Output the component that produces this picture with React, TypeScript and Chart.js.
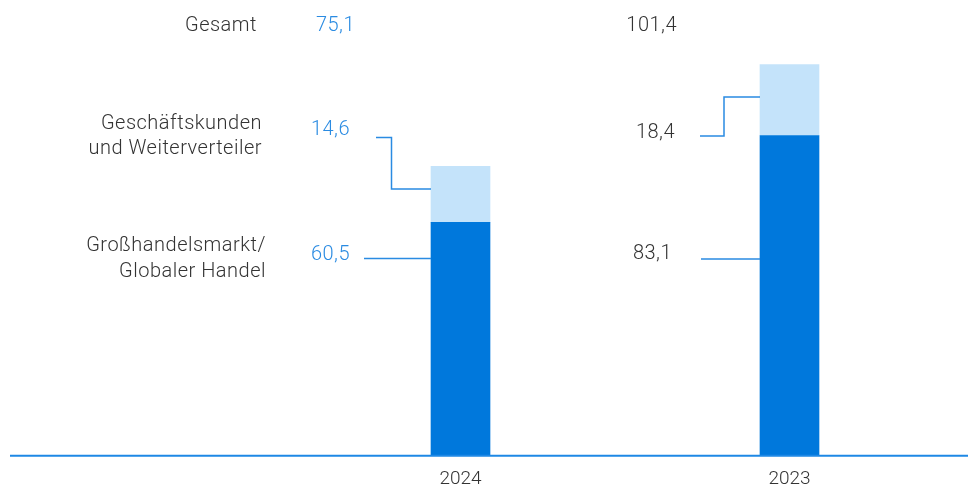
import React, { useEffect, useRef } from "react";
import { Chart, registerables } from "chart.js";

Chart.register(...registerables);

const years = ["2024", "2023"];
const wholesale = [60.5, 83.1];
const business = [14.6, 18.4];
const totals = [75.1, 101.4];
const seriesNames = ["Großhandelsmarkt/\nGlobaler Handel", "Geschäftskunden\nund Weiterverteiler", "Gesamt"];

const DARK = "#0078dc";
const LIGHT = "#c4e3fa";
const BLUE_TEXT = "#2a8be2";
const GREY_TEXT = "#333333";
const LINE = "#2a8be2";
const FONT = "Roboto, 'Noto Sans', sans-serif";

const fmt = (v: number) => v.toFixed(1).replace(".", ",");

const annotations = {
  id: "annotations",
  afterDraw(chart: any) {
    const ctx = chart.ctx as CanvasRenderingContext2D;
    const meta0 = chart.getDatasetMeta(0);
    const barLeft = (i: number) => {
      const el = meta0.data[i] as any;
      return el.x - el.width / 2;
    };
    ctx.save();
    // axis line
    ctx.strokeStyle = "#1e88e5";
    ctx.lineWidth = 2;
    ctx.beginPath();
    const yb = chart.scales.y.getPixelForValue(0);
    ctx.moveTo(10, yb + 0.5);
    ctx.lineTo(968, yb + 0.5);
    ctx.stroke();

    ctx.font = `300 20px ${FONT}`;
    (ctx as any).letterSpacing = "0.5px";
    ctx.textBaseline = "middle";
    ctx.textAlign = "right";
    // category names
    ctx.fillStyle = GREY_TEXT;
    const [gh, gl] = [seriesNames[0].split("\n"), seriesNames[1].split("\n")];
    ctx.fillText(seriesNames[2], 257, 26);
    ctx.fillText(gl[0], 262, 124);
    ctx.fillText(gl[1], 262, 149);
    ctx.fillText(gh[0], 266, 246);
    ctx.fillText(gh[1], 266, 272);

    // values 2024 (blue)
    ctx.fillStyle = BLUE_TEXT;
    ctx.fillText(fmt(totals[0]), 355, 26);
    ctx.fillText(fmt(business[0]), 350, 130);
    ctx.fillText(fmt(wholesale[0]), 350, 255);
    // values 2023 (grey)
    ctx.fillStyle = GREY_TEXT;
    ctx.fillText(fmt(totals[1]), 677, 26);
    ctx.fillText(fmt(business[1]), 675, 133);
    ctx.fillText(fmt(wholesale[1]), 672, 254);

    // connectors
    ctx.strokeStyle = LINE;
    ctx.lineWidth = 1.5;
    ctx.beginPath();
    ctx.moveTo(376, 137.5);
    ctx.lineTo(391.5, 137.5);
    ctx.lineTo(391.5, 189);
    ctx.lineTo(barLeft(0), 189);
    ctx.moveTo(364, 258.5);
    ctx.lineTo(barLeft(0), 258.5);
    ctx.moveTo(700, 136);
    ctx.lineTo(724, 136);
    ctx.lineTo(724, 97);
    ctx.lineTo(barLeft(1), 97);
    ctx.moveTo(701, 259);
    ctx.lineTo(barLeft(1), 259);
    ctx.stroke();
    ctx.restore();
  },
};

export default function App() {
  const ref = useRef<HTMLCanvasElement | null>(null);
  useEffect(() => {
    document.body.style.margin = "0";
    const chart = new Chart(ref.current as HTMLCanvasElement, {
      type: "bar",
      data: {
        labels: years,
        datasets: [
          { label: "Großhandelsmarkt/Globaler Handel", data: wholesale, backgroundColor: DARK, barThickness: 59 },
          { label: "Geschäftskunden und Weiterverteiler", data: business, backgroundColor: LIGHT, barThickness: 59 },
        ],
      },
      options: {
        animation: false,
        responsive: false,
        layout: { padding: { left: 296, right: 14, top: 32, bottom: -18 } },
        plugins: { legend: { display: false }, tooltip: { enabled: false } },
        scales: {
          x: {
            stacked: true,
            grid: { display: false, drawTicks: false },
            border: { display: false },
            ticks: { color: GREY_TEXT, font: { family: FONT, size: 19, weight: "300" }, padding: 13 },
          },
          y: { stacked: true, display: false, min: 0, max: 110 },
        },
      },
      plugins: [annotations],
    });
    return () => chart.destroy();
  }, []);
  return (
    <div style={{ width: 968, height: 486 }}>
      <canvas ref={ref} width={968} height={486} style={{ display: "block" }} />
    </div>
  );
}
